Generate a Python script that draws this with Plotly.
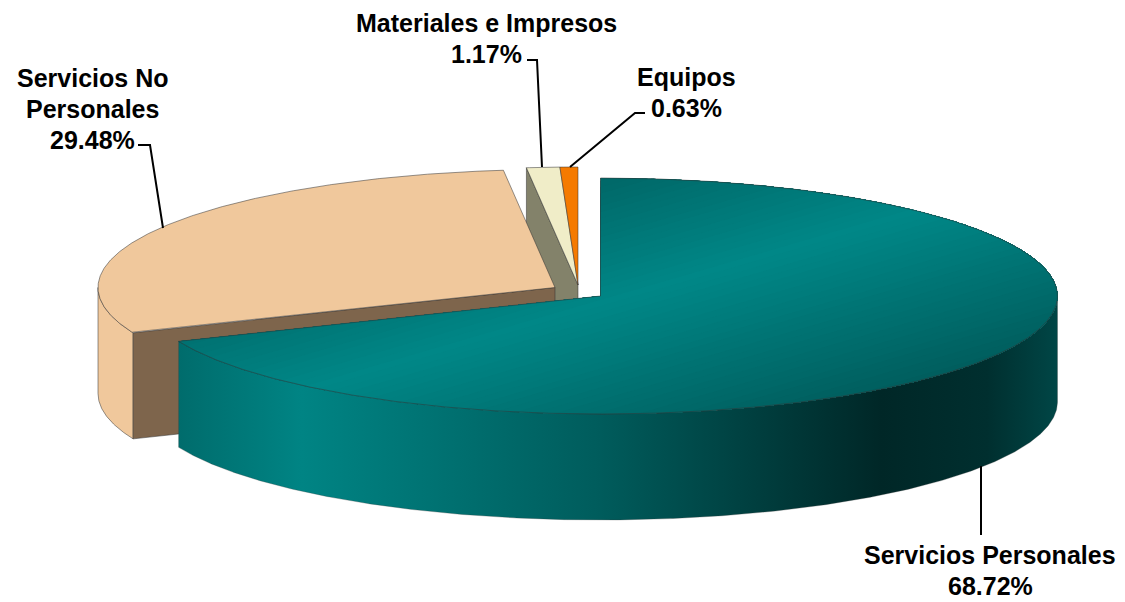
import numpy as np
import plotly.graph_objects as go

# ---- data ----
categories = ["Servicios Personales", "Servicios No Personales", "Materiales e Impresos", "Equipos"]
shares = [68.72, 29.48, 1.17, 0.63]
label_lines = [["Servicios Personales", "68.72%"], ["Servicios No", "Personales", "29.48%"],
               ["Materiales e Impresos", "1.17%"], ["Equipos", "0.63%"]]

# ---- geometry / style of the projected pie ----
W, H = 1125, 602
RX, RY, DEPTH = 457.0, 118.0, 106.0
APEX = [(600.5, 296.0), (555.0, 287.5), (578.0, 285.0), (578.0, 285.0)]
TOP_COLOR = [None, "#F0C89C", "#F0EDC8", "#F57A00"]
BROWN = "#7E654C"
OLIVE = "#83826A"
EDGE = "rgba(50,50,50,0.65)"

cum = np.concatenate([[0], np.cumsum(shares)]) / sum(shares) * 360.0


def rim(i, a0=None, a1=None, drop=0.0):
    a0 = cum[i] if a0 is None else a0
    a1 = cum[i + 1] if a1 is None else a1
    t = np.radians(np.linspace(a0, a1, max(int(abs(a1 - a0) * 3), 4)))
    cx, cy = APEX[i]
    return np.column_stack([cx + RX * np.sin(t), cy - RY * np.cos(t) + drop])


def wedge(i):
    return np.vstack([[APEX[i]], rim(i), [APEX[i]]])


def wall(i, a0, a1):
    top = rim(i, a0, a1)
    bot = rim(i, a0, a1, DEPTH)[::-1]
    return np.vstack([top, bot, top[:1]])


def cut_face(i, angle):
    cx, cy = APEX[i]
    p = rim(i, angle, angle)[0]
    return np.array([[cx, cy], p, p + [0, DEPTH], [cx, cy + DEPTH], [cx, cy]])


def clip(poly, nx, ny, d0):
    """Keep the part of a polygon with nx*x + ny*y >= d0."""
    out = []
    d = poly[:, 0] * nx + poly[:, 1] * ny - d0
    for k in range(len(poly) - 1):
        if d[k] >= 0:
            out.append(poly[k])
        if d[k] * d[k + 1] < 0:
            out.append(poly[k] + (poly[k + 1] - poly[k]) * d[k] / (d[k] - d[k + 1]))
    if not out:
        return None
    out.append(out[0])
    return np.array(out)


def solid(poly, color, line=EDGE, lw=0.8, **kw):
    return go.Scatter(x=poly[:, 0], y=poly[:, 1], mode="lines", fill="toself", fillcolor=color,
                      line=dict(color=line, width=lw), hoverinfo="skip", showlegend=False, **kw)


fig = go.Figure()

# exploded small slices: visible cut face, then tops
fig.add_trace(solid(cut_face(2, cum[2]), OLIVE))
fig.add_trace(solid(wedge(2), TOP_COLOR[2]))
fig.add_trace(solid(wedge(3), TOP_COLOR[3]))

# Servicios No Personales: outer wall, cut face, top
fig.add_trace(solid(wall(1, cum[1], 270.0), TOP_COLOR[1]))
fig.add_trace(solid(cut_face(1, cum[1]), BROWN))
fig.add_trace(solid(wedge(1), TOP_COLOR[1]))

# Servicios Personales: outer wall with a horizontal shading
wall_poly = wall(0, 90.0, cum[1])
x0, x1 = wall_poly[:, 0].min(), wall_poly[:, 0].max()
fig.add_trace(go.Scatter(
    x=wall_poly[:, 0], y=wall_poly[:, 1], mode="lines", fill="toself",
    fillgradient=dict(type="horizontal", start=x0, stop=x1, colorscale=[
        [0.00, "#006C6C"], [0.14, "#008484"], [0.48, "#005C5C"],
        [0.72, "#003434"], [0.80, "#002727"], [0.92, "#002F2F"], [1.00, "#004646"]]),
    line=dict(color="rgba(60,60,60,0.35)", width=0.8), hoverinfo="skip", showlegend=False))

# Servicios Personales: top, diagonal band shading painted as overlapping half-planes
NX, NY = 0.28, 0.96
stops = [(330, (0, 0x66, 0x66)), (458, (0, 0x88, 0x88)), (660, (0, 0x54, 0x54))]
top_poly = wedge(0)
for d0 in np.arange(330, 660, 6):
    c = [np.interp(d0, [s[0] for s in stops], [s[1][j] for s in stops]) for j in range(3)]
    piece = clip(top_poly, NX, NY, d0)
    if piece is not None:
        fig.add_trace(go.Scatter(x=piece[:, 0], y=piece[:, 1], mode="none", fill="toself",
                                 fillcolor="rgb(%d,%d,%d)" % tuple(c), hoverinfo="skip", showlegend=False))
fig.add_trace(go.Scatter(x=top_poly[:, 0], y=top_poly[:, 1], mode="lines",
                         line=dict(color=EDGE, width=0.8), hoverinfo="skip", showlegend=False))

# labels: one annotation per text line, centred on (x, first line y) with a fixed line pitch
label_pos = [(990, 555), (92, 78), (486.5, 23), (686, 77)]
LINE_PITCH = 31
annotations = []
for lines, (x, y) in zip(label_lines, label_pos):
    for n, line in enumerate(lines):
        annotations.append(dict(x=x, y=y + n * LINE_PITCH, xref="x", yref="y", text="<b>%s</b>" % line,
                                showarrow=False, align="center",
                                font=dict(family="Liberation Sans", size=25, color="#000000")))

leaders = ["M 981 466 L 981 535", "M 138 145 L 150 145 L 163 228",
           "M 527 60 L 537 60 L 542 167", "M 645 113 L 635 113 L 570 167"]
shapes = [dict(type="path", path=p, xref="x", yref="y", line=dict(color="#000000", width=2)) for p in leaders]

fig.update_layout(
    width=W, height=H, margin=dict(l=0, r=0, t=0, b=0),
    paper_bgcolor="#FFFFFF", plot_bgcolor="#FFFFFF", showlegend=False,
    xaxis=dict(range=[0, W], visible=False, fixedrange=True),
    yaxis=dict(range=[H, 0], visible=False, fixedrange=True),
    annotations=annotations, shapes=shapes,
)
fig.write_html("out.html", post_script="document.body.style.margin='0';", config={"displayModeBar": False})
